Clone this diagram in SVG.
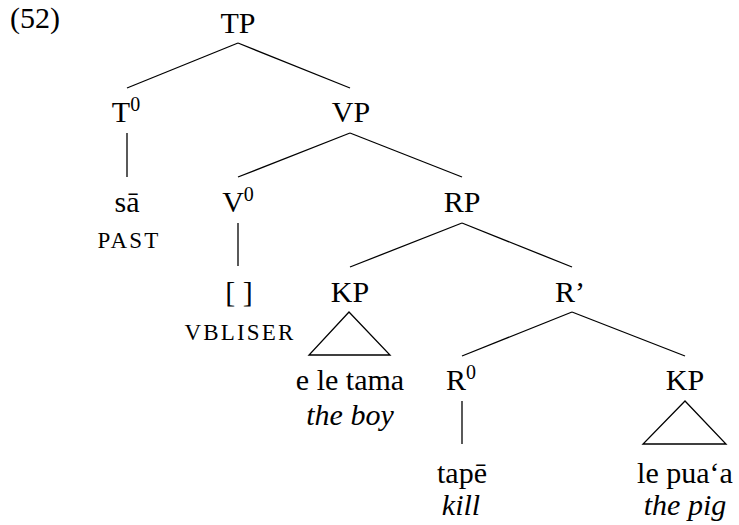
<svg xmlns="http://www.w3.org/2000/svg" width="739" height="525" viewBox="0 0 739 525" font-family="Liberation Serif, Tinos, Times New Roman, DejaVu Serif, serif">
<style>
text{font-family:'Liberation Serif','Times New Roman','DejaVu Serif',serif;font-size:30px;fill:#000;text-anchor:middle}
.sc{font-size:23px;letter-spacing:2.2px}
.it{font-style:italic}
.sup{font-size:20px}
.edges line,.edges polygon{stroke:#000;stroke-width:1.3;fill:none}
</style>
<rect width="739" height="525" fill="#fff"/>
<text x="10" y="28" style="text-anchor:start">(52)</text>
<g class="edges" id="connectors">
<line x1="238" y1="43" x2="127" y2="88"/>
<line x1="238" y1="43" x2="350" y2="88"/>
<line x1="127" y1="133" x2="127" y2="177"/>
<line x1="350" y1="133" x2="238" y2="177"/>
<line x1="350" y1="133" x2="462" y2="177"/>
<line x1="238" y1="223" x2="238" y2="266"/>
<line x1="462" y1="223" x2="350" y2="267"/>
<line x1="462" y1="223" x2="572" y2="267"/>
<polygon points="349,312 309,355 390,355"/>
<line x1="572" y1="312" x2="462" y2="356"/>
<line x1="572" y1="312" x2="685" y2="356"/>
<line x1="462" y1="401" x2="462" y2="444"/>
<polygon points="685,401 643,444 726,444"/>
</g>
<g id="TP"><text x="238" y="33">TP</text></g>
<g id="T0"><text x="126" y="122">T<tspan class="sup" dy="-11">0</tspan></text></g>
<g id="VP"><text x="351" y="122">VP</text></g>
<g id="sa"><text x="127" y="212">sā</text><text class="sc" x="129" y="248">PAST</text></g>
<g id="V0"><text x="238" y="212">V<tspan class="sup" dy="-11">0</tspan></text></g>
<g id="RP"><text x="462" y="212">RP</text></g>
<g id="vbliser"><text x="239" y="302">[ ]</text><text class="sc" x="240" y="340">VBLISER</text></g>
<g id="KP1"><text x="350" y="302">KP</text></g>
<g id="Rbar"><text x="570" y="302">R’</text></g>
<g id="KP1-content"><text x="350" y="390">e le tama</text><text class="it" x="350" y="425">the boy</text></g>
<g id="R0"><text x="461" y="390">R<tspan class="sup" dy="-11">0</tspan></text></g>
<g id="KP2"><text x="685" y="390">KP</text></g>
<g id="tape"><text x="462" y="483">tapē</text><text class="it" x="461" y="515">kill</text></g>
<g id="KP2-content"><text x="685" y="483">le pua‘a</text><text class="it" x="685" y="515">the pig</text></g>
</svg>
